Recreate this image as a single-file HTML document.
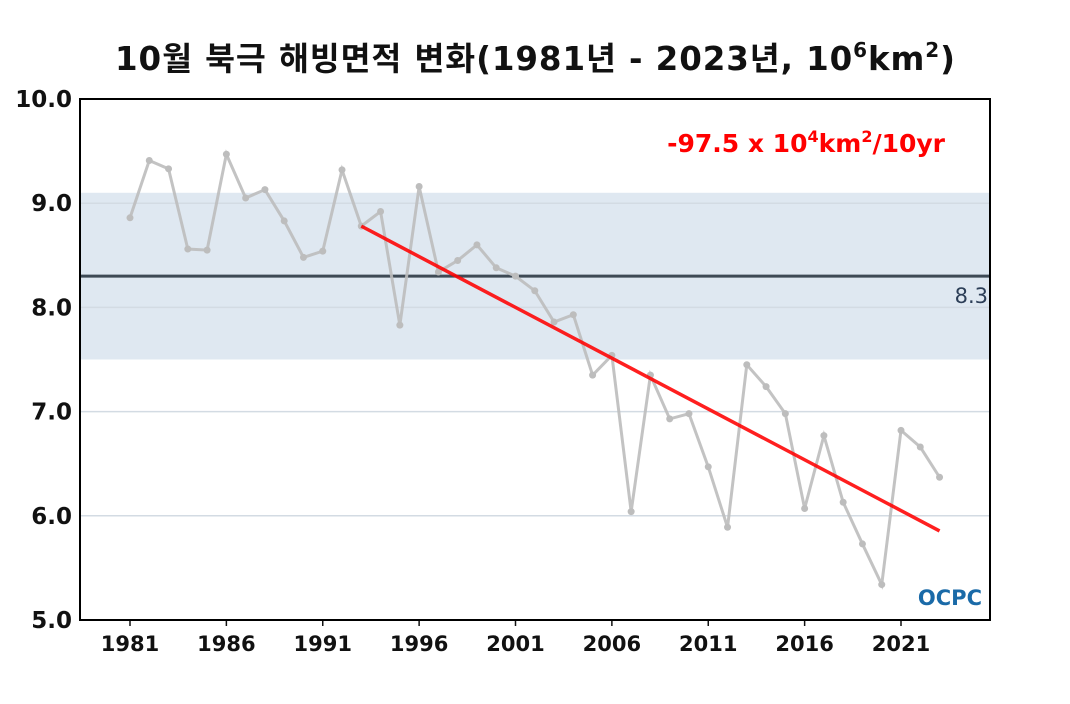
<!DOCTYPE html>
<html><head><meta charset="utf-8">
<style>
body{margin:0;background:#fff;width:1070px;height:700px;overflow:hidden;font-family:"DejaVu Sans","Noto Sans CJK KR",sans-serif;}
</style></head>
<body>
<svg id="chart" width="1070" height="700" xmlns="http://www.w3.org/2000/svg" font-family="'DejaVu Sans','Noto Sans CJK KR',sans-serif">
<text x="115" y="70" textLength="840" lengthAdjust="spacing" font-size="32.5" font-weight="bold" fill="#111">10월 북극 해빙면적 변화(1981년 - 2023년, 10<tspan dy="-13" font-size="20">6</tspan><tspan dy="13">km</tspan><tspan dy="-13" font-size="20">2</tspan><tspan dy="13">)</tspan></text>
<g id="plot"></g>
</svg>
<script>
const years=[];for(let y=1981;y<=2023;y++)years.push(y);
const extent=[8.86,9.41,9.33,8.56,8.55,9.47,9.05,9.13,8.83,8.48,8.54,9.32,8.78,8.92,7.83,9.16,8.34,8.45,8.60,8.38,8.30,8.16,7.86,7.93,7.35,7.54,6.04,7.35,6.93,6.98,6.47,5.89,7.45,7.24,6.98,6.07,6.77,6.13,5.73,5.34,6.82,6.66,6.37];
const yTicks=[5,6,7,8,9,10];
const xTicks=[1981,1986,1991,1996,2001,2006,2011,2016,2021];
const meanValue=8.3;
const bandRange=[7.5,9.1];
const trendStart=[1993,8.78];
const trendSlope=-0.0975;
const NS="http://www.w3.org/2000/svg";
const L=80,R=990,T=99,B=620;
const x=v=>130+(v-1981)*(901-130)/40;
const y=v=>T+(10-v)*(B-T)/5;
const g=document.getElementById('plot');
function mk(t,a,p){const e=document.createElementNS(NS,t);for(const k in a)e.setAttribute(k,a[k]);(p||g).appendChild(e);return e;}
let e=mk('rect',{x:L,y:y(bandRange[1]),width:R-L,height:y(bandRange[0])-y(bandRange[1]),fill:'#dfe8f1'});


yTicks.forEach(t=>{
 if(t>5&&t<10){const l=mk('line',{x1:L,x2:R,y1:y(t),y2:y(t),stroke:'#d3dbe3','stroke-width':1.5});
 
 }
 const tx=mk('text',{x:72,y:y(t)+8,'text-anchor':'end','font-size':23,'font-weight':'bold',fill:'#111'});tx.textContent=t.toFixed(1);
 
 
});
xTicks.forEach(t=>{
 const l=mk('line',{x1:x(t),x2:x(t),y1:B,y2:B+6,stroke:'#111','stroke-width':1.5});
 
 
 const tx=mk('text',{x:x(t),y:651,'text-anchor':'middle','font-size':21,'font-weight':'bold',fill:'#111'});tx.textContent=t;
 
 
});
e=mk('line',{x1:L,x2:R,y1:y(meanValue),y2:y(meanValue),stroke:'#3e4a55','stroke-width':3});


e=mk('text',{x:988,y:y(meanValue)+27,'text-anchor':'end','font-size':21,fill:'#2c3e57'});e.textContent=meanValue.toFixed(1);


e=mk('polyline',{points:years.map((yr,i)=>x(yr)+','+y(extent[i])).join(' '),fill:'none',stroke:'#bdbdbd','stroke-width':3,'stroke-opacity':0.9});


years.forEach((yr,i)=>{const c=mk('circle',{cx:x(yr),cy:y(extent[i]),r:3.5,fill:'#bdbdbd'});
 
 });
const endYear=2023;
e=mk('line',{x1:x(trendStart[0]),y1:y(trendStart[1]),x2:x(endYear),y2:y(trendStart[1]+trendSlope*(endYear-trendStart[0])),stroke:'#ff0000','stroke-width':3.5,'stroke-opacity':0.88});


e=mk('rect',{x:L,y:T,width:R-L,height:B-T,fill:'none',stroke:'#000','stroke-width':2});


e=mk('text',{x:945,y:152,'text-anchor':'end','font-size':25,'font-weight':'bold',fill:'#f00'});
e.innerHTML='-97.5 x 10<tspan dy="-10" font-size="16">4</tspan><tspan dy="10">km</tspan><tspan dy="-10" font-size="16">2</tspan><tspan dy="10">/10yr</tspan>';


e=mk('text',{x:982,y:605,'text-anchor':'end','font-size':21,'font-weight':'bold',fill:'#1a6aa8'});e.textContent='OCPC';


</script>
</body></html>
